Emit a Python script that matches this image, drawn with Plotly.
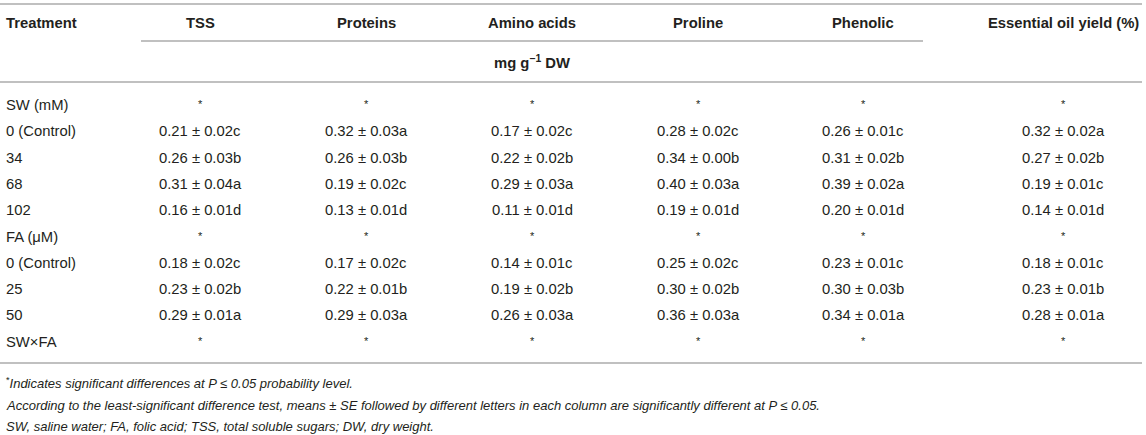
import plotly.graph_objects as go

W, H = 1146, 435

headers = ["TSS", "Proteins", "Amino acids", "Proline", "Phenolic", "Essential oil yield (%)"]
unit_label = "mg g<sup>−1</sup> DW"

treatments = ["SW (mM)", "0 (Control)", "34", "68", "102",
              "FA (μM)", "0 (Control)", "25", "50", "SW×FA"]

tss      = ["*", "0.21 ± 0.02c", "0.26 ± 0.03b", "0.31 ± 0.04a", "0.16 ± 0.01d",
            "*", "0.18 ± 0.02c", "0.23 ± 0.02b", "0.29 ± 0.01a", "*"]
proteins = ["*", "0.32 ± 0.03a", "0.26 ± 0.03b", "0.19 ± 0.02c", "0.13 ± 0.01d",
            "*", "0.17 ± 0.02c", "0.22 ± 0.01b", "0.29 ± 0.03a", "*"]
amino    = ["*", "0.17 ± 0.02c", "0.22 ± 0.02b", "0.29 ± 0.03a", "0.11 ± 0.01d",
            "*", "0.14 ± 0.01c", "0.19 ± 0.02b", "0.26 ± 0.03a", "*"]
proline  = ["*", "0.28 ± 0.02c", "0.34 ± 0.00b", "0.40 ± 0.03a", "0.19 ± 0.01d",
            "*", "0.25 ± 0.02c", "0.30 ± 0.02b", "0.36 ± 0.03a", "*"]
phenolic = ["*", "0.26 ± 0.01c", "0.31 ± 0.02b", "0.39 ± 0.02a", "0.20 ± 0.01d",
            "*", "0.23 ± 0.01c", "0.30 ± 0.03b", "0.34 ± 0.01a", "*"]
oil      = ["*", "0.32 ± 0.02a", "0.27 ± 0.02b", "0.19 ± 0.01c", "0.14 ± 0.01d",
            "*", "0.18 ± 0.01c", "0.23 ± 0.01b", "0.28 ± 0.01a", "*"]

columns = [tss, proteins, amino, proline, phenolic, oil]

footnotes = [
    "<sup>*</sup><i>Indicates significant differences at P ≤ 0.05 probability level.</i>",
    "<i>According to the least-significant difference test, means ± SE followed by different letters in each column are significantly different at P ≤ 0.05.</i>",
    "<i>SW, saline water; FA, folic acid; TSS, total soluble sugars; DW, dry weight.</i>",
]

# layout (pixels)
col_x = [200, 366, 532, 698, 863, 1063]
treat_x = 4
header_y = 23
unit_y = 62
row_y0, row_dy = 105, 26.3
foot_y = [383, 405, 426]
line_color = "#ababab"
text_color = "#231f20"
FONT = "Liberation Sans, Arial, Helvetica, sans-serif"
FS = 14.8

fig = go.Figure()
ann = []

def add(x, y, text, anchor="center", bold=False, size=FS):
    ann.append(dict(x=x, y=y, xref="x", yref="y", text=(f"<b>{text}</b>" if bold else text),
                    showarrow=False, xanchor=anchor, yanchor="middle",
                    font=dict(family=FONT, size=size, color=text_color)))

add(treat_x, header_y, "Treatment", anchor="left", bold=True)
for x, h in zip(col_x, headers):
    add(x, header_y, h, bold=True)
add(col_x[2], unit_y, unit_label, bold=True)

for i, t in enumerate(treatments):
    y = row_y0 + i * row_dy
    add(treat_x, y, t, anchor="left")
    for x, col in zip(col_x, columns):
        v = col[i]
        if v == "*":
            add(x, y - 1, v, size=11)
        else:
            add(x, y, v)

for y, f in zip(foot_y, footnotes):
    add(treat_x, y, f, anchor="left", size=13)

shapes = []
def hline(x0, x1, y):
    shapes.append(dict(type="line", xref="x", yref="y", x0=x0, x1=x1, y0=y, y1=y,
                       line=dict(color=line_color, width=1.5)))

hline(0, 1142, 4)
hline(141, 923, 41)
hline(0, 1142, 82)
hline(0, 1142, 363)

fig.update_layout(
    width=W, height=H, margin=dict(l=0, r=0, t=0, b=0),
    paper_bgcolor="white", plot_bgcolor="white",
    xaxis=dict(range=[0, W], visible=False, fixedrange=True),
    yaxis=dict(range=[H, 0], visible=False, fixedrange=True),
    annotations=ann, shapes=shapes, showlegend=False,
)

fig.write_html("out.html", config={"displayModeBar": False},
               post_script="document.body.style.margin='0';document.body.style.overflow='hidden';")
